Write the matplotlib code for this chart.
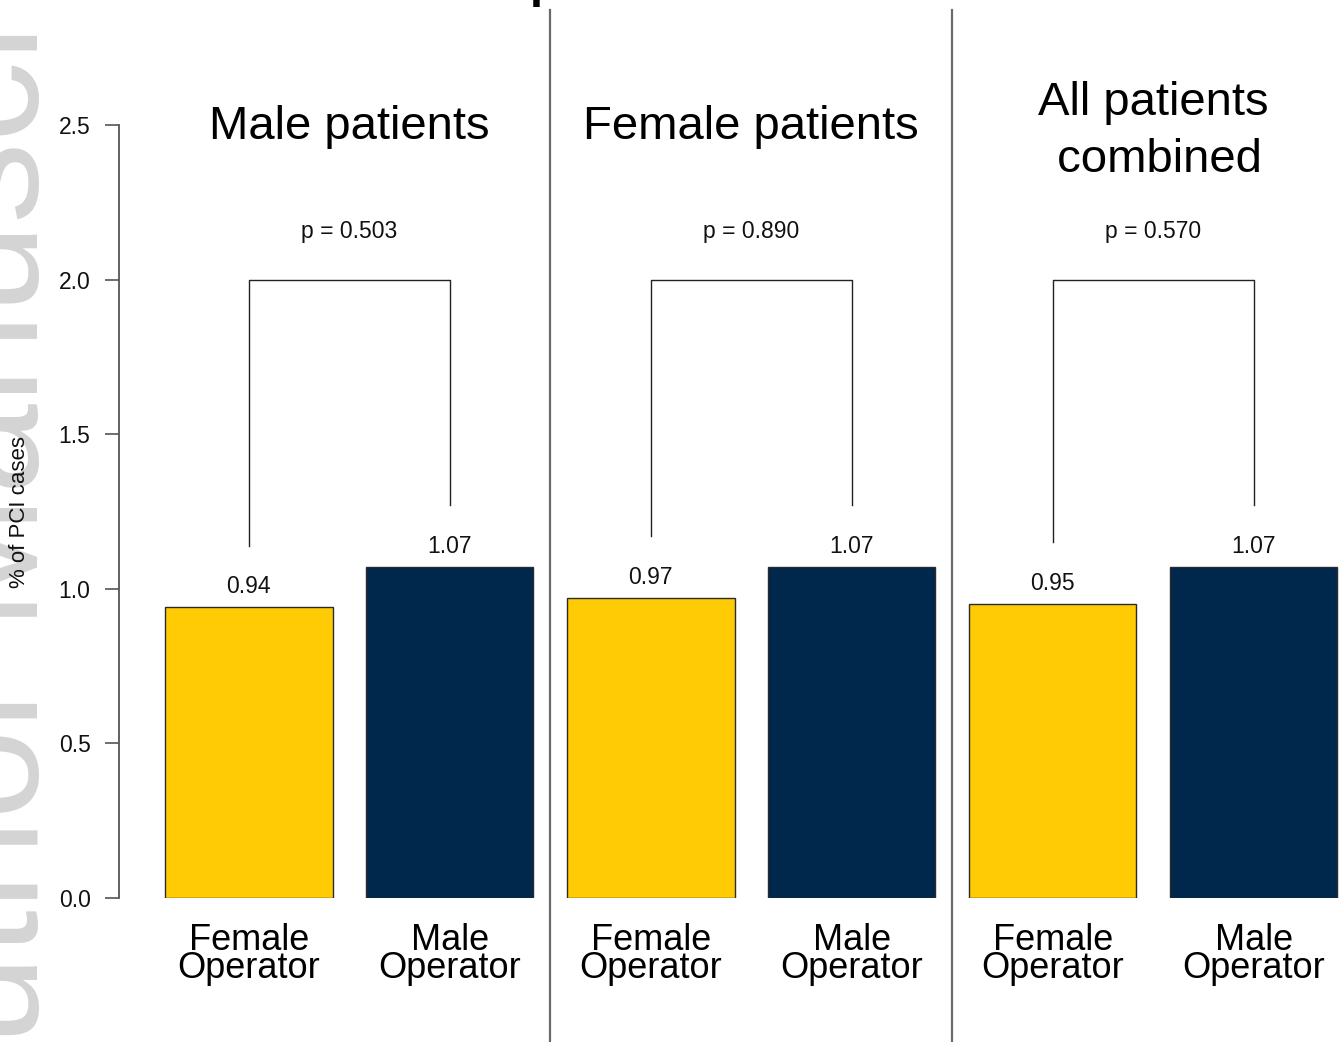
import matplotlib
matplotlib.use("Agg")
import matplotlib.pyplot as plt

plt.rcParams["font.family"] = ["Liberation Sans", "DejaVu Sans"]

# Data
panel_titles = ["Male patients", "Female patients", "All patients\n combined"]
operator_labels = ["Female\nOperator", "Male\nOperator"]
female_operator = [0.94, 0.97, 0.95]
male_operator = [1.07, 1.07, 1.07]
p_values = ["p = 0.503", "p = 0.890", "p = 0.570"]
y_ticks = [0.0, 0.5, 1.0, 1.5, 2.0, 2.5]
y_label = "% of PCI cases"

MAIZE = "#FFCB05"
NAVY = "#00274C"

W, H = 1343, 1042
fig = plt.figure(figsize=(W / 100, H / 100), dpi=100)

# watermark running up the left edge
fig.text(38 / W, 1 - 1153 / H, "Author Manuscript", rotation=90,
         rotation_mode="anchor", ha="left", va="baseline",
         fontsize=117, color="#d4d4d4", zorder=0)

# cut-off heading at the very top
fig.text(530 / W, 1 + 3 / H, "p", fontsize=34, fontweight="bold",
         ha="left", va="baseline", color="black")

# axes placed so that y=0..2.5 spans the plotting band
y_bot, y_top = 898, 125
x_left = 119
ax = fig.add_axes([x_left / W, 1 - y_bot / H, (W - x_left) / W, (y_bot - y_top) / H])
ax.patch.set_alpha(0)
px_per_unit = (y_bot - y_top) / 2.5
x0_px, x_unit = 131.5, 167.5
ax.set_ylim(0, 2.5)
ax.set_xlim((x_left - x0_px) / x_unit, (W - x0_px) / x_unit)


def ypx(py):
    return (y_bot - py) / px_per_unit


# bar layout: width 1, space 0.2
heights, colors, centers = [], [], []
for f, m in zip(female_operator, male_operator):
    heights += [f, m]
    colors += [MAIZE, NAVY]
for i in range(len(heights)):
    centers.append(0.2 + 1.2 * i + 0.5)

ax.bar(centers, heights, width=1.0, color=colors, edgecolor="#2b2b2b",
       linewidth=1.0, zorder=2)

for c, h in zip(centers, heights):
    ax.text(c, h + 0.047, f"{h:.2f}", ha="center", va="baseline",
            fontsize=16.5, color="#111111")

for k in range(len(panel_titles)):
    cf, cm = centers[2 * k], centers[2 * k + 1]
    hf, hm = heights[2 * k], heights[2 * k + 1]
    ax.plot([cf, cf, cm, cm], [hf + 0.2, 2.0, 2.0, hm + 0.2],
            color="#222222", lw=1.0, clip_on=False)
    mid = (cf + cm) / 2
    ax.text(mid, 2.133, p_values[k], ha="center", va="baseline",
            fontsize=16.5, color="#111111")
    lines = panel_titles[k].split("\n")
    if len(lines) == 1:
        ax.text(mid, ypx(139), lines[0], ha="center", va="baseline",
                fontsize=34, clip_on=False)
    else:
        ax.text(mid, ypx(115), lines[0], ha="center", va="baseline",
                fontsize=34, clip_on=False)
        ax.text(mid, ypx(172), lines[1], ha="center", va="baseline",
                fontsize=34, clip_on=False)

# operator labels under each bar
for i, c in enumerate(centers):
    top, bottom = operator_labels[i % 2].split("\n")
    ax.text(c, ypx(950), top, ha="center", va="baseline", fontsize=26,
            clip_on=False)
    ax.text(c, ypx(978), bottom, ha="center", va="baseline", fontsize=26,
            clip_on=False)

# panel separators
for xs in [2.5, 4.9]:
    ax.plot([xs, xs], [ypx(10), ypx(H + 5)], color="#6a6a6a", lw=1.6,
            clip_on=False, zorder=1)

# y axis
for s in ["top", "right", "bottom"]:
    ax.spines[s].set_visible(False)
ax.spines["left"].set_bounds(0, 2.5)
ax.spines["left"].set_color("#555555")
ax.spines["left"].set_linewidth(1.3)
ax.set_xticks([])
ax.set_yticks(y_ticks)
ax.set_yticklabels([f"{t:.1f}" for t in y_ticks], fontsize=16.5, color="#111111")
ax.tick_params(axis="y", length=10, width=1.2, color="#555555", pad=10.5)

fig.text(20 / W, 1 - 512 / H, y_label, rotation=90, ha="center", va="center",
         fontsize=16, color="#111111")

fig.savefig("out.png", dpi=100)
